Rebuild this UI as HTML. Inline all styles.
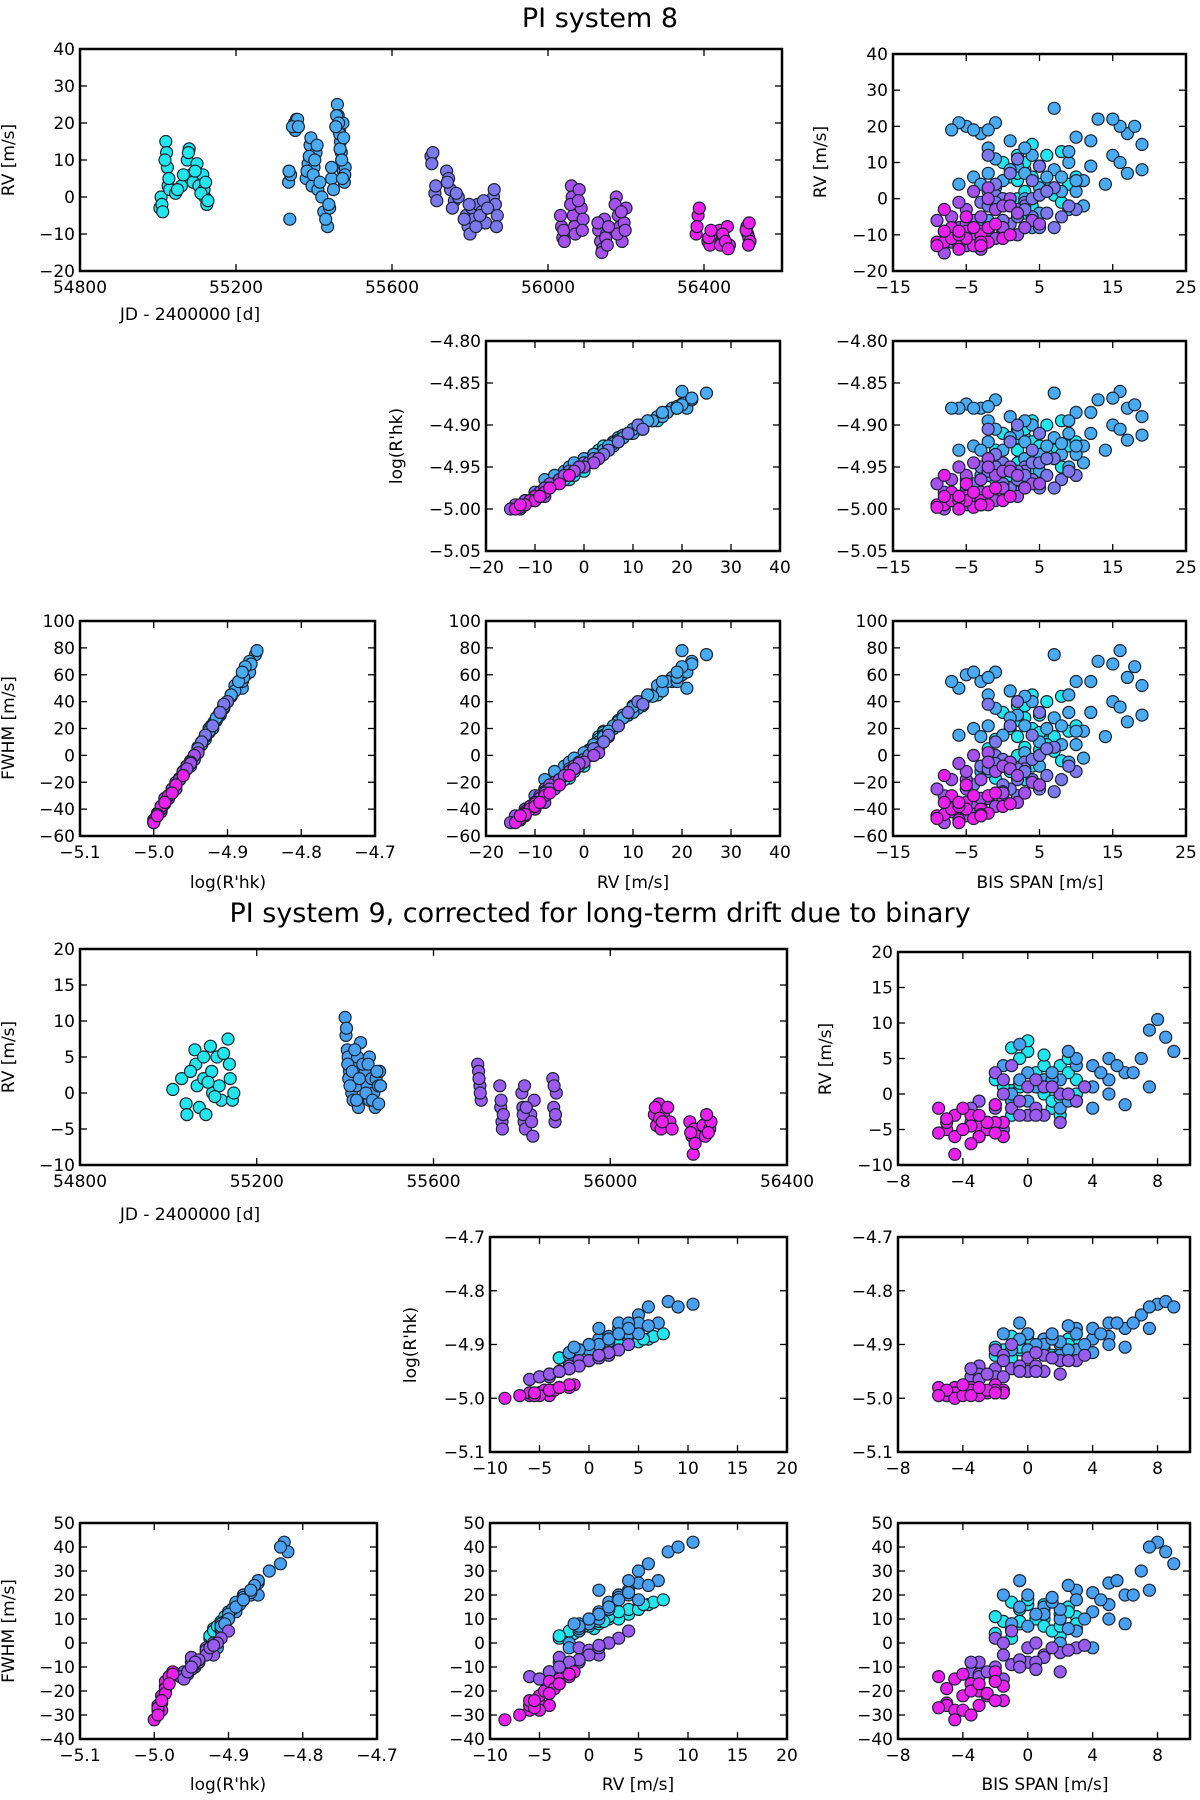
<!DOCTYPE html>
<html><head><meta charset="utf-8">
<style>
html,body{margin:0;padding:0;background:#fff;}
svg{display:block;font-family:"DejaVu Sans","Liberation Sans",sans-serif;}
</style></head>
<body>
<svg id="fig" width="1200" height="1800" viewBox="0 0 1200 1800" xmlns="http://www.w3.org/2000/svg">
<text x="600" y="27" font-size="27" text-anchor="middle">PI system 8</text>
<text x="600" y="922" font-size="27" text-anchor="middle">PI system 9, corrected for long-term drift due to binary</text>
</svg>
<script>
// ---- System 8 observations: [t, rv, bis, logR, fwhm]
const s8_cyan = [[55005,-3,-1,-4.965,-17],[55008,0,0,-4.955,-8],[55010,-2,1,-4.96,-12],[55020,15,4,-4.895,45],[55022,12,2,-4.905,37],[55024,8,3,-4.915,28],[55026,3,6,-4.935,10],[55030,2,-2,-4.94,5],[55045,1,5,-4.94,4],[55060,3,7,-4.93,14],[55075,10,3,-4.905,37],[55080,13,8,-4.895,44],[55085,6,1,-4.92,20],[55090,4,9,-4.925,18],[55100,9,5,-4.91,30],[55105,3,-1,-4.93,12],[55115,6,10,-4.92,22],[55120,0,2,-4.945,0],[55125,-2,4,-4.955,-8],[55118,2,6,-4.935,8],
[55012,-4,3,-4.965,-18],[55018,10,0,-4.91,32],[55028,5,2,-4.93,14],[55050,2,3,-4.94,6],[55065,6,4,-4.92,20],[55078,12,6,-4.9,40],[55095,7,2,-4.915,26],[55110,1,7,-4.94,3],[55128,-1,8,-4.95,-4],[55122,4,5,-4.925,17]];
const s8_blue = [[55335,4,-6,-4.93,15],[55338,-6,-3,-4.96,-12],[55340,6,-4,-4.925,20],[55350,20,-5,-4.875,60],[55352,18,-3,-4.88,55],[55355,21,-1,-4.87,62],[55358,21,-6,-4.88,50],[55380,5,0,-4.93,15],[55385,9,2,-4.91,30],[55390,14,-2,-4.895,45],[55395,3,5,-4.935,10],[55400,8,7,-4.915,28],[55405,12,4,-4.9,40],[55410,2,8,-4.935,8],[55420,0,3,-4.94,2],[55425,-4,5,-4.955,-8],[55435,-8,4,-4.965,-18],[55440,-3,9,-4.95,-5],[55445,5,11,-4.925,18],[55460,25,7,-4.862,75],[55462,22,13,-4.87,70],[55465,18,17,-4.88,58],[55468,15,19,-4.89,52],[55470,12,15,-4.9,40],[55472,9,12,-4.91,32],[55475,7,17,-4.918,25],[55478,4,14,-4.93,14],[55480,8,19,-4.912,30],[55474,20,16,-4.86,78],[55466,17,10,-4.885,55],
[55336,7,-2,-4.92,22],[55345,19,-7,-4.88,55],[55360,19,-2,-4.878,58],[55382,7,3,-4.92,22],[55388,11,-1,-4.905,35],[55392,16,1,-4.89,48],[55398,6,6,-4.925,20],[55402,10,9,-4.91,32],[55408,14,3,-4.895,44],[55415,4,-3,-4.93,14],[55430,-6,-2,-4.96,-12],[55438,-2,11,-4.945,-2],[55450,2,10,-4.935,8],[55458,22,15,-4.868,68],[55463,20,18,-4.876,66],[55467,13,9,-4.895,45],[55471,10,16,-4.905,36],[55476,16,12,-4.885,55],[55479,6,8,-4.922,22],[55473,5,10,-4.925,18],[55456,19,-4,-4.88,62],[55445,8,1,-4.915,28]];
const s8_slate = [[55700,11,2,-4.9,40],[55705,12,-2,-4.905,38],[55710,1,-1,-4.945,0],[55715,-1,3,-4.95,-5],[55740,7,1,-4.92,22],[55745,5,4,-4.93,15],[55750,2,6,-4.94,5],[55760,-1,-3,-4.95,-8],[55770,0,0,-4.945,-3],[55790,-5,8,-4.965,-18],[55795,-8,5,-4.975,-25],[55800,-10,2,-4.98,-30],[55805,-3,10,-4.96,-12],[55810,-6,-4,-4.97,-22],[55820,-2,3,-4.955,-10],[55830,-4,6,-4.96,-15],[55840,-7,1,-4.975,-25],[55860,0,4,-4.945,-3],[55865,-2,9,-4.955,-8],[55870,-5,2,-4.965,-18],
[55702,9,5,-4.91,32],[55712,3,7,-4.94,6],[55742,4,-1,-4.935,10],[55755,-3,2,-4.955,-10],[55765,1,5,-4.945,0],[55785,-6,0,-4.97,-22],[55798,-2,-2,-4.955,-10],[55815,-8,7,-4.975,-27],[55825,-5,4,-4.965,-18],[55835,-1,-1,-4.95,-6],[55845,-3,3,-4.96,-12],[55862,2,6,-4.94,5],[55868,-8,0,-4.975,-27]];
const s8_purple = [[56035,-8,-6,-4.985,-35],[56038,-11,-3,-4.99,-38],[56040,-9,0,-4.985,-32],[56060,3,-2,-4.94,2],[56062,0,1,-4.95,-5],[56065,-5,-5,-4.965,-18],[56068,-8,3,-4.975,-28],[56080,2,-4,-4.945,0],[56085,-3,-1,-4.96,-12],[56090,-6,4,-4.97,-20],[56130,-9,-8,-4.98,-30],[56135,-12,-6,-4.99,-40],[56140,-14,-3,-4.995,-45],[56145,-6,-9,-4.97,-25],[56150,-10,2,-4.985,-35],[56175,0,-2,-4.95,-5],[56180,-5,-7,-4.965,-18],[56185,-8,0,-4.975,-28],[56190,-12,-4,-4.99,-40],[56195,-7,5,-4.97,-22],[56200,-3,-5,-4.96,-12],
[56032,-5,-3,-4.965,-18],[56042,-12,-7,-4.99,-42],[56058,-2,0,-4.955,-8],[56070,-10,-4,-4.985,-35],[56078,-1,-6,-4.95,-6],[56088,-9,-2,-4.98,-32],[56128,-7,-5,-4.975,-25],[56138,-15,-8,-5.0,-50],[56148,-11,-1,-4.99,-38],[56152,-13,-5,-4.995,-45],[56172,-2,1,-4.955,-10],[56178,-10,-6,-4.985,-35],[56188,-4,2,-4.96,-15],[56198,-9,-3,-4.98,-32],[56155,-8,3,-4.975,-28]];
const s8_magenta = [[56380,-10,-7,-4.985,-35],[56385,-5,-5,-4.97,-22],[56388,-3,-8,-4.96,-15],[56410,-12,-9,-4.995,-45],[56415,-13,-6,-5.0,-48],[56420,-10,-3,-4.99,-40],[56440,-9,-5,-4.985,-35],[56445,-12,-2,-4.995,-43],[56450,-11,0,-4.99,-38],[56460,-8,-7,-4.98,-30],[56465,-13,-4,-4.998,-47],[56510,-8,-2,-4.98,-30],[56512,-10,1,-4.985,-36],[56515,-11,-5,-4.99,-40],[56518,-12,-8,-4.995,-44],
[56382,-8,-4,-4.98,-30],[56412,-11,-7,-4.99,-40],[56418,-9,-8,-4.985,-35],[56442,-13,-9,-4.998,-47],[56448,-10,-6,-4.99,-38],[56455,-12,-3,-4.995,-44],[56462,-14,-6,-5.0,-50],[56508,-9,-6,-4.985,-35],[56514,-13,-3,-4.995,-45],[56516,-7,-1,-4.975,-28]];
// ---- System 9 observations: [t, rv, bis, logR, fwhm]
const s9_cyan = [[55010,0.5,-1,-4.915,6],[55030,2,1,-4.905,10],[55040,-1.5,-2,-4.92,4],[55042,-3,-1,-4.925,2],[55060,6,0,-4.89,16],[55062,4,2,-4.9,12],[55065,1,-0.5,-4.91,8],[55070,-2,1.5,-4.92,5],[55080,2,3,-4.9,11],[55085,-3,2,-4.925,3],[55095,6.5,-1,-4.885,17],[55098,3,0.5,-4.905,10],[55100,0,1,-4.915,7],[55110,5,2.5,-4.89,15],[55115,1,-1.5,-4.91,9],[55120,-1,3,-4.92,6],[55135,7.5,0,-4.88,18],[55138,4,1,-4.895,14],[55140,2,-2,-4.905,11],[55145,-1,1.5,-4.92,5],[55080,5,-0.5,-4.895,14],[55105,-0.5,2,-4.915,7],[55050,3,2.5,-4.9,13],[55090,1.5,-0.5,-4.905,9],[55125,5.5,1,-4.89,16],[55148,0,3,-4.91,8]];
const s9_blue = [[55400,10.5,8,-4.825,42],[55402,8,8.5,-4.82,38],[55405,6,9,-4.83,33],[55407,5,7,-4.845,30],[55410,3,0,-4.88,20],[55412,2,1,-4.89,15],[55415,0,2,-4.9,10],[55418,-1,-1,-4.91,8],[55420,4,3,-4.87,22],[55425,1,4,-4.89,13],[55428,5,5,-4.86,25],[55430,-2,2,-4.92,0],[55445,3,6,-4.87,20],[55450,1,1,-4.9,12],[55455,-1,3,-4.91,5],[55460,2,5,-4.885,16],[55465,0,-1,-4.91,8],[55468,-2,4,-4.915,-2],[55470,2,2,-4.895,14],[55475,1,3.5,-4.9,10],[55478,3,6.5,-4.86,20],[55435,7,-0.5,-4.86,26],[55440,4,-1.5,-4.88,20],[55408,2,1.5,-4.89,17],[55455,5,3,-4.88,18],
[55403,9,7.5,-4.83,40],[55406,4,5.5,-4.86,26],[55411,1,0.5,-4.9,12],[55416,3,1.5,-4.88,19],[55422,6,2.5,-4.865,24],[55426,-1,2.5,-4.91,6],[55432,2,-0.5,-4.89,15],[55447,0,5,-4.9,10],[55452,4,4,-4.87,21],[55462,-1,0,-4.91,7],[55472,3,4.5,-4.88,18],[55476,-1.5,6,-4.905,8],[55480,1,7.5,-4.87,22]];
const s9_purple = [[55700,4,-1,-4.9,5],[55702,3,-2,-4.91,2],[55705,1,0,-4.925,-2],[55708,-1,-3,-4.94,-8],[55750,1,1,-4.92,-5],[55752,-2,-2,-4.945,-10],[55755,-4,-3.5,-4.96,-12],[55758,-3,0,-4.95,-8],[55800,0,2,-4.93,-4],[55802,-2,-1,-4.945,-9],[55805,-4,-3,-4.955,-13],[55808,-5,-2,-4.96,-15],[55820,-3,1,-4.95,-6],[55825,-6,-3,-4.965,-14],[55828,-1,3,-4.93,-2],[55870,2,-1.5,-4.92,0],[55872,-2,0.5,-4.94,-8],[55875,-4,-2.5,-4.955,-12],[55878,0,2.5,-4.93,-3],
[55703,2,0.5,-4.915,0],[55706,0,-1.5,-4.93,-5],[55753,-1,-0.5,-4.94,-7],[55756,-5,-1.5,-4.96,-15],[55803,-3,0.5,-4.95,-11],[55810,-2,-3.5,-4.945,-8],[55822,-4,2,-4.955,-12],[55873,1,1.5,-4.925,-2],[55876,-3,-0.5,-4.95,-10],[55806,1,3.5,-4.92,-1]];
const s9_magenta = [[56100,-3,-4.5,-4.98,-15],[56105,-4.5,-3,-4.985,-20],[56110,-1.5,-2,-4.975,-12],[56115,-5,-5,-4.99,-25],[56120,-3,-3.5,-4.98,-17],[56135,-4,-1.5,-4.985,-18],[56140,-5,-4,-4.99,-22],[56180,-4,-5,-4.995,-26],[56185,-6,-4.5,-4.99,-28],[56188,-8.5,-4.5,-5.0,-32],[56190,-5,-2.5,-4.99,-22],[56195,-6,-3,-4.995,-26],[56210,-4.5,-3.5,-4.985,-20],[56215,-6,-1.5,-4.99,-24],[56225,-5,-4,-4.995,-28],[56228,-4,-2,-4.985,-16],[56130,-2,-5.5,-4.98,-14],
[56102,-2,-4,-4.975,-13],[56112,-3.5,-5,-4.985,-19],[56118,-4,-2.5,-4.985,-21],[56182,-5.5,-5.5,-4.995,-27],[56192,-7,-3.5,-4.995,-30],[56218,-3,-3,-4.98,-17],[56222,-5.5,-2,-4.99,-24]];

const s8_colors = ['#22e6ee','#49abf2','#7d78ee','#a650ee','#ec20ee'];
const s9_colors = ['#22e6ee','#4aa0f0','#9a5cf0','#ec20ee'];

// tick values
const t8_x = [54800,55200,55600,56000,56400];
const rv8_y = [-20,-10,0,10,20,30,40];
const bis8_x = [-15,-5,5,15,25];
const rv8_x = [-20,-10,0,10,20,30,40];
const lr8_y = [-5.05,-5.00,-4.95,-4.90,-4.85,-4.80];
const lr8_x = [-5.1,-5.0,-4.9,-4.8,-4.7];
const fw8_y = [-60,-40,-20,0,20,40,60,80,100];
const t9_x = [54800,55200,55600,56000,56400];
const rv9_y = [-10,-5,0,5,10,15,20];
const bis9_x = [-8,-4,0,4,8];
const rv9_x = [-10,-5,0,5,10,15,20];
const lr9_y = [-5.1,-5.0,-4.9,-4.8,-4.7];
const lr9_x = [-5.1,-5.0,-4.9,-4.8,-4.7];
const fw9_y = [-40,-30,-20,-10,0,10,20,30,40,50];

const NS='http://www.w3.org/2000/svg';
const fig=document.getElementById('fig');
function mk(tag,attrs,parent){const e=document.createElementNS(NS,tag);for(const k in attrs)e.setAttribute(k,attrs[k]);(parent||fig).appendChild(e);return e;}
function fmt(v,d){return (v<0?'\u2212':'')+Math.abs(v).toFixed(d);}

function panel(name,box,xlim,ylim,xt,yt,xd,yd,xi,yi,groups,colors){
  const g=mk('g',{});
  
  
  const [L,T,R,B]=box;
  const sx=v=>L+(v-xlim[0])/(xlim[1]-xlim[0])*(R-L);
  const sy=v=>B-(v-ylim[0])/(ylim[1]-ylim[0])*(B-T);
  const pg=mk('g',{},g);
  
  
  groups.forEach((grp,gi)=>{grp.forEach(p=>{
    const c=mk('circle',{cx:sx(p[xi]).toFixed(1),cy:sy(p[yi]).toFixed(1),r:6,fill:colors[gi],stroke:'#1a2430','stroke-width':1.2},pg);
    
    
  });});
  const fr=mk('rect',{x:L,y:T,width:R-L,height:B-T,fill:'none',stroke:'#000','stroke-width':2.5},g);
  
  
  xt.forEach(v=>{const x=sx(v);
    mk('line',{x1:x,y1:B,x2:x,y2:B-7,stroke:'#000','stroke-width':1.3},g);
    mk('line',{x1:x,y1:T,x2:x,y2:T+7,stroke:'#000','stroke-width':1.3},g);
    const t=mk('text',{x:x,y:B+22,'font-size':17,'text-anchor':'middle'},g);
    t.textContent=fmt(v,xd);
    
    
  });
  yt.forEach(v=>{const y=sy(v);
    mk('line',{x1:L,y1:y,x2:L+7,y2:y,stroke:'#000','stroke-width':1.3},g);
    mk('line',{x1:R,y1:y,x2:R-7,y2:y,stroke:'#000','stroke-width':1.3},g);
    const t=mk('text',{x:L-5,y:y+6,'font-size':17,'text-anchor':'end'},g);
    t.textContent=fmt(v,yd);
    
    
  });
}
function label(txt,x,y,rot,name){
  const t=mk('text',{x:x,y:y,'font-size':17,'text-anchor':'middle',transform:rot?`rotate(-90 ${x} ${y})`:''});
  t.textContent=txt;
  
  
}

const G8=[s8_cyan,s8_blue,s8_slate,s8_purple,s8_magenta];
const G9=[s9_cyan,s9_blue,s9_purple,s9_magenta];
// System 8
panel('s8-rv-time',[80,49,782,271],[54800,56600],[-20,40],t8_x,rv8_y,0,0,0,1,G8,s8_colors);
panel('s8-rv-bis',[893,54,1186,271],[-15,25],[-20,40],bis8_x,rv8_y,0,0,2,1,G8,s8_colors);
panel('s8-logr-rv',[486,341,780,551],[-20,40],[-5.05,-4.80],rv8_x,lr8_y,0,2,1,3,G8,s8_colors);
panel('s8-logr-bis',[893,341,1186,551],[-15,25],[-5.05,-4.80],bis8_x,lr8_y,0,2,2,3,G8,s8_colors);
panel('s8-fwhm-logr',[80,621,375,836],[-5.1,-4.7],[-60,100],lr8_x,fw8_y,1,0,3,4,G8,s8_colors);
panel('s8-fwhm-rv',[486,621,780,836],[-20,40],[-60,100],rv8_x,fw8_y,0,0,1,4,G8,s8_colors);
panel('s8-fwhm-bis',[893,621,1186,836],[-15,25],[-60,100],bis8_x,fw8_y,0,0,2,4,G8,s8_colors);
label('RV [m/s]',14,160,true,'y-axis-title');
label('JD - 2400000 [d]',190,320,false,'x-axis-title');
label('RV [m/s]',826,162,true,'y-axis-title');
label("log(R'hk)",402,446,true,'y-axis-title');
label('FWHM [m/s]',14,728,true,'y-axis-title');
label("log(R'hk)",228,888,false,'x-axis-title');
label('RV [m/s]',633,888,false,'x-axis-title');
label('BIS SPAN [m/s]',1040,888,false,'x-axis-title');
// System 9
panel('s9-rv-time',[80,949,787,1165],[54800,56400],[-10,20],t9_x,rv9_y,0,0,0,1,G9,s9_colors);
panel('s9-rv-bis',[898,952,1190,1165],[-8,10],[-10,20],bis9_x,rv9_y,0,0,2,1,G9,s9_colors);
panel('s9-logr-rv',[490,1237,787,1452],[-10,20],[-5.1,-4.7],rv9_x,lr9_y,0,1,1,3,G9,s9_colors);
panel('s9-logr-bis',[898,1237,1190,1452],[-8,10],[-5.1,-4.7],bis9_x,lr9_y,0,1,2,3,G9,s9_colors);
panel('s9-fwhm-logr',[80,1523,377,1739],[-5.1,-4.7],[-40,50],lr9_x,fw9_y,1,0,3,4,G9,s9_colors);
panel('s9-fwhm-rv',[490,1523,787,1739],[-10,20],[-40,50],rv9_x,fw9_y,0,0,1,4,G9,s9_colors);
panel('s9-fwhm-bis',[898,1523,1190,1739],[-8,10],[-40,50],bis9_x,fw9_y,0,0,2,4,G9,s9_colors);
label('RV [m/s]',14,1057,true,'y-axis-title');
label('JD - 2400000 [d]',190,1220,false,'x-axis-title');
label('RV [m/s]',831,1059,true,'y-axis-title');
label("log(R'hk)",416,1345,true,'y-axis-title');
label('FWHM [m/s]',14,1631,true,'y-axis-title');
label("log(R'hk)",228,1790,false,'x-axis-title');
label('RV [m/s]',638,1790,false,'x-axis-title');
label('BIS SPAN [m/s]',1045,1790,false,'x-axis-title');
</script>
</body></html>
